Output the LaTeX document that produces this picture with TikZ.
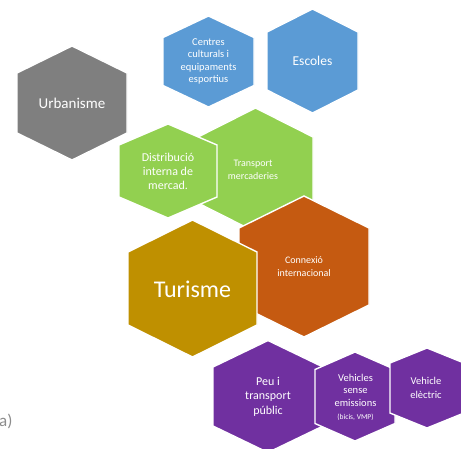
\documentclass[tikz,border=0pt]{standalone}
\usepackage{fontspec}
\setmainfont{Carlito}
\definecolor{cgray}{HTML}{7F7F7F}
\definecolor{cblue}{HTML}{5B9BD5}
\definecolor{cgreen}{HTML}{92D050}
\definecolor{cgold}{HTML}{BF9000}
\definecolor{corange}{HTML}{C55A11}
\definecolor{cpurple}{HTML}{7030A0}
\definecolor{ccap}{HTML}{8C8C8C}
\newcommand{\hexa}[6]{%
  \filldraw[hexstyle, fill=#6] (#1,#2-#4) -- (#1+#3,#2-#5) -- (#1+#3,#2+#5) -- (#1,#2+#4) -- (#1-#3,#2+#5) -- (#1-#3,#2-#5) -- cycle;}
\tikzset{
  hexstyle/.style={draw=white, line width=1.4pt, line join=miter},
  lbl/.style={text=white, align=center, inner sep=0pt},
}
\begin{document}
\begin{tikzpicture}[x=1pt,y=-1pt]
\useasboundingbox (0,0) rectangle (461,448);
% Urbanisme
\hexa{72}{103}{55}{57}{30}{cgray}
\node[lbl, font=\fontsize{15}{17}\selectfont] (urb) at (72,103) {Urbanisme};
% Centres culturals
\hexa{208.5}{61.5}{45.5}{45.5}{24}{cblue}
\node[lbl, font=\fontsize{10.5}{12.5}\selectfont] (cen) at (208.5,61.5) {Centres\\culturals i\\equipaments\\esportius};
% Escoles
\hexa{312.5}{61}{45.5}{52}{29}{cblue}
\node[lbl, font=\fontsize{13.5}{16}\selectfont] (esc) at (312.5,61) {Escoles};
% Transport mercaderies
\hexa{255.5}{170}{57.5}{62}{33}{cgreen}
\node[lbl, font=\fontsize{10}{13.3}\selectfont] (tra) at (253,170) {Transport\\mercaderies};
% Distribucio
\hexa{168}{171}{49}{47}{26}{cgreen}
\node[lbl, font=\fontsize{12}{14}\selectfont] (dis) at (168,171) {Distribució\\interna de\\mercad.};
% Connexio internacional
\hexa{304}{266.5}{65}{70.5}{38.5}{corange}
\node[lbl, font=\fontsize{10}{13.3}\selectfont] (con) at (304,266.5) {Connexió\\internacional};
% Turisme
\hexa{192.5}{288.5}{64.5}{68.5}{36.5}{cgold}
\node[lbl, font=\fontsize{24}{28}\selectfont] (tur) at (192.5,289) {Turisme};
% Peu i transport public
\hexa{268}{396.5}{55}{56}{29.5}{cpurple}
\node[lbl, font=\fontsize{12}{14.5}\selectfont] (peu) at (268,396.5) {Peu i\\transport\\públic};
% Vehicles sense emissions
\hexa{355}{396.5}{40}{44.5}{27}{cpurple}
\node[lbl, font=\fontsize{10.5}{12.7}\selectfont] (sen) at (355.5,397) {Vehicles\\sense\\emissions\\{\fontsize{7.5}{9}\selectfont(bicis, VMP)}};
% Vehicle electric
\hexa{427}{388}{37}{40}{25}{cpurple}
\node[lbl, font=\fontsize{10.5}{14}\selectfont] (ele) at (426,388) {Vehicle\\elèctric};
% caption fragment
\node[text=ccap, anchor=west, inner sep=0pt, font=\fontsize{17}{20}\selectfont] (cap) at (-1,421) {a)};
\end{tikzpicture}
\end{document}
